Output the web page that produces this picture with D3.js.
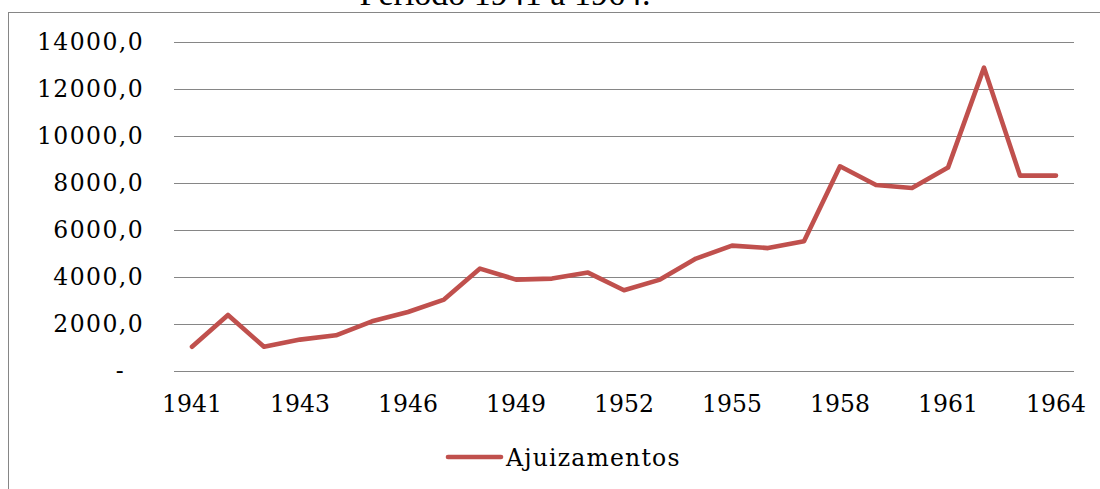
<!DOCTYPE html>
<html>
<head>
<meta charset="utf-8">
<script src="https://cdnjs.cloudflare.com/ajax/libs/d3/7.8.5/d3.min.js"></script>
<style>
  html, body { margin: 0; padding: 0; background: #fff; }
  svg { display: block; }
</style>
</head>
<body>
<div id="chart"></div>
<script>
// chart data
var categories = ["1941","1941","1942","1943","1944","1945","1946","1947","1948",
                  "1949","1950","1951","1952","1953","1954","1955","1956","1957",
                  "1958","1959","1960","1961","1962","1963","1964"];
var ajuizamentos = [1028, 2385, 1030, 1336, 1519, 2115, 2510, 3038, 4357,
                    3889, 3932, 4187, 3434, 3889, 4783, 5336, 5230, 5519,
                    8710, 7914, 7787, 8655, 12910, 8314, 8314];
var xTickIdx = [0, 3, 6, 9, 12, 15, 18, 21, 24];
var yTicks = [0, 2000, 4000, 6000, 8000, 10000, 12000, 14000];
var seriesName = "Ajuizamentos";
var title = "Período 1941 a 1964.";

var W = 1100, H = 489;
var lineColor = "#C0504D", gridColor = "#868686";
var serif = "'DejaVu Serif', serif";

var svg = d3.select("#chart").append("svg")
    .attr("width", W).attr("height", H);

// outer chart frame (runs off the right and bottom of the picture)
svg.append("rect")
    .attr("x", 8.5).attr("y", 12.5)
    .attr("width", W + 20).attr("height", H + 20)
    .style("fill", "none")
    .style("stroke", gridColor)
    .style("stroke-width", 1);

// title, mostly cut off at the top (as in the source)
svg.append("text")
    .attr("x", 505).attr("y", 5)
    .style("text-anchor", "middle")
    .style("font-family", "'Liberation Serif', serif")
    .style("font-size", "34px")
    .style("fill", "#000")
    .text(title);

var x = d3.scaleBand().domain(d3.range(categories.length)).range([174, 1074]);
var y = d3.scaleLinear().domain([0, 14000]).range([371, 42]);
var cx = function(i){ return x(i) + x.bandwidth()/2; };

var fmt = function(v){
    if (v === 0) return "-";
    return d3.format(".1f")(v).replace(".", ",");
};

// y axis with gridlines
var gy = svg.append("g").attr("transform", "translate(174,0)");
gy.call(d3.axisLeft(y).tickValues(yTicks).tickSize(-900).tickPadding(30).tickFormat(fmt));
gy.select(".domain").remove();
gy.selectAll(".tick line").style("stroke", gridColor).style("stroke-width", 1);
gy.selectAll(".tick text")
    .style("font-family", serif)
    .style("font-size", "23.5px")
    .style("letter-spacing", "1.4px")
    .style("fill", "#000")
    .attr("x", function(d){ return d === 0 ? -49 : -30; });

// x axis labels, every third category
var gx = svg.append("g").attr("transform", "translate(0,371)");
gx.call(d3.axisBottom(x).tickValues(xTickIdx).tickSize(0).tickPadding(24)
    .tickFormat(function(i){ return categories[i]; }));
gx.select(".domain").remove();
gx.selectAll(".tick text")
    .style("font-family", serif)
    .style("font-size", "23.5px")
    .style("fill", "#000");

// the series line
var line = d3.line()
    .x(function(d, i){ return cx(i); })
    .y(function(d){ return y(d); });

svg.append("path")
    .datum(ajuizamentos)
    .attr("d", line)
    .style("fill", "none")
    .style("stroke", lineColor)
    .style("stroke-width", 4.6)
    .style("stroke-linejoin", "round")
    .style("stroke-linecap", "round");

// legend
var lg = svg.append("g").attr("transform", "translate(448,457)");
lg.append("line")
    .attr("x1", 0).attr("x2", 53).attr("y1", 0).attr("y2", 0)
    .style("stroke", lineColor)
    .style("stroke-width", 4.6)
    .style("stroke-linecap", "round");
lg.append("text")
    .attr("x", 58).attr("y", 9)
    .style("font-family", serif)
    .style("font-size", "23.5px")
    .style("letter-spacing", "1.2px")
    .style("fill", "#000")
    .text(seriesName);
</script>
</body>
</html>
